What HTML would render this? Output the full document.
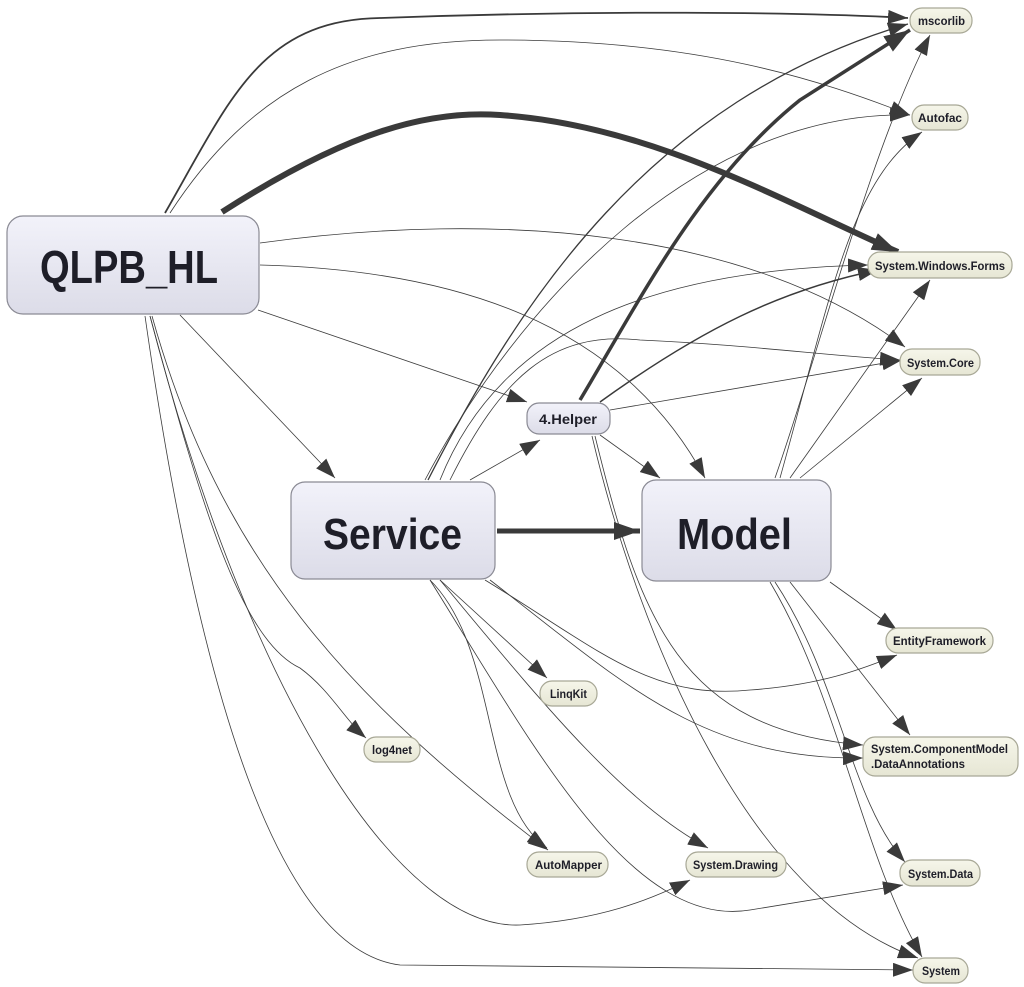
<!DOCTYPE html>
<html><head><meta charset="utf-8"><style>
html,body{margin:0;padding:0;background:#fff;}
svg{display:block;}
text{font-family:"Liberation Sans Narrow","Liberation Sans",sans-serif;font-weight:bold;fill:#1e1e28;}
</style></head><body>
<svg width="1024" height="987" viewBox="0 0 1024 987" xmlns="http://www.w3.org/2000/svg">
<defs>
<linearGradient id="big" x1="0" y1="0" x2="0" y2="1"><stop offset="0" stop-color="#f2f2fa"/><stop offset="1" stop-color="#dcdce8"/></linearGradient>
<linearGradient id="sm" x1="0" y1="0" x2="0" y2="1"><stop offset="0" stop-color="#f6f6ea"/><stop offset="1" stop-color="#e6e6d4"/></linearGradient>
<marker id="a" markerUnits="userSpaceOnUse" markerWidth="22" markerHeight="14" refX="20" refY="7" orient="auto"><path d="M0,0 L20,7 L0,14 z" fill="#3a3a3a"/></marker>
<marker id="b" markerUnits="userSpaceOnUse" markerWidth="28" markerHeight="18" refX="26" refY="9" orient="auto"><path d="M0,0 L26,9 L0,18 z" fill="#3a3a3a"/></marker>
</defs>
<g fill="none" stroke="#3a3a3a" stroke-width="0.8" marker-end="url(#a)">
<path d="M165,213 C230,100 260,20 380,18 C600,10 800,12 908,18" stroke-width="1.8"/>
<path d="M170,213 C250,90 350,40 500,40 C700,40 820,80 910,115"/>
<path d="M260,243 C500,210 750,230 905,347"/>
<path d="M260,265 C450,270 620,320 705,478"/>
<path d="M258,310 L527,402"/>
<path d="M180,315 L335,478"/>
<path d="M150,316 C200,500 240,640 300,668 C330,690 345,720 366,738"/>
<path d="M152,316 C220,560 350,700 548,850"/>
<path d="M150,316 C250,700 400,930 520,925 C600,920 650,900 690,880"/>
<path d="M145,316 C200,700 280,950 400,965 L913,970"/>
<path d="M428,480 C520,300 650,100 908,24" stroke-width="1.3"/>
<path d="M425,480 C520,300 700,110 910,115"/>
<path d="M440,480 C500,330 650,270 868,265"/>
<path d="M450,480 C500,380 550,330 640,340 C750,345 820,355 900,360"/>
<path d="M470,480 L540,440"/>
<path d="M430,580 C500,650 480,800 547,848"/>
<path d="M440,580 L547,678"/>
<path d="M440,580 C540,700 620,800 708,848"/>
<path d="M485,580 C600,650 650,700 750,690 C820,685 860,670 897,655"/>
<path d="M490,580 C620,680 700,760 863,758"/>
<path d="M430,580 C530,740 630,930 750,910 L903,885"/>
<path d="M600,402 C700,330 780,290 878,270" stroke-width="1.5"/>
<path d="M610,410 L902,360"/>
<path d="M600,435 L660,478"/>
<path d="M595,436 C640,620 680,730 863,745"/>
<path d="M592,436 C640,640 750,900 918,958"/>
<path d="M775,478 C820,350 870,150 930,35"/>
<path d="M780,478 C830,300 850,180 922,132"/>
<path d="M790,478 L930,280"/>
<path d="M800,478 L922,378"/>
<path d="M830,582 L897,630"/>
<path d="M790,582 L910,735"/>
<path d="M775,582 C840,680 850,800 905,862"/>
<path d="M770,582 C840,700 860,850 922,957"/>
</g>
<g fill="none" stroke="#3a3a3a" marker-end="url(#b)">
<path d="M222,212 C350,130 430,110 500,115 C650,125 780,200 898,252" stroke-width="6"/>
<path d="M580,400 C640,300 700,180 800,100 L910,30" stroke-width="3.5"/>
<path d="M497,531 L640,531" stroke-width="5"/>
</g>
<g stroke="#8a8a94" stroke-width="1.2" fill="url(#big)">
<rect x="7" y="216" width="252" height="98" rx="16"/>
<rect x="291" y="482" width="204" height="97" rx="14"/>
<rect x="642" y="480" width="189" height="101" rx="14"/>
<rect x="527" y="403" width="83" height="31" rx="12"/>
</g>
<text x="40" y="283" font-size="46" textLength="178" lengthAdjust="spacingAndGlyphs">QLPB_HL</text>
<text x="323" y="549" font-size="44" textLength="139" lengthAdjust="spacingAndGlyphs">Service</text>
<text x="677" y="549" font-size="44" textLength="115" lengthAdjust="spacingAndGlyphs">Model</text>
<text x="539" y="424" font-size="14" textLength="58" lengthAdjust="spacingAndGlyphs">4.Helper</text>
<g stroke="#a8a896" stroke-width="1.2" fill="url(#sm)">
<rect x="910" y="8" width="62" height="25" rx="12"/>
<rect x="912" y="105" width="56" height="25" rx="12"/>
<rect x="868" y="252" width="144" height="26" rx="12"/>
<rect x="900" y="349" width="80" height="26" rx="12"/>
<rect x="886" y="628" width="107" height="25" rx="12"/>
<rect x="863" y="737" width="155" height="39" rx="12"/>
<rect x="900" y="860" width="80" height="26" rx="12"/>
<rect x="913" y="958" width="55" height="25" rx="12"/>
<rect x="540" y="681" width="57" height="25" rx="12"/>
<rect x="364" y="737" width="56" height="25" rx="12"/>
<rect x="527" y="852" width="81" height="25" rx="12"/>
<rect x="686" y="852" width="100" height="25" rx="12"/>
</g>
<g font-size="12" lengthAdjust="spacingAndGlyphs">
<text x="918" y="25" textLength="47" lengthAdjust="spacingAndGlyphs">mscorlib</text>
<text x="918" y="122" textLength="44" lengthAdjust="spacingAndGlyphs">Autofac</text>
<text x="875" y="270" textLength="130" lengthAdjust="spacingAndGlyphs">System.Windows.Forms</text>
<text x="907" y="367" textLength="67" lengthAdjust="spacingAndGlyphs">System.Core</text>
<text x="893" y="645" textLength="93" lengthAdjust="spacingAndGlyphs">EntityFramework</text>
<text x="871" y="753" textLength="137" lengthAdjust="spacingAndGlyphs">System.ComponentModel</text>
<text x="871" y="768" textLength="94" lengthAdjust="spacingAndGlyphs">.DataAnnotations</text>
<text x="908" y="878" textLength="65" lengthAdjust="spacingAndGlyphs">System.Data</text>
<text x="922" y="975" textLength="38" lengthAdjust="spacingAndGlyphs">System</text>
<text x="550" y="698" textLength="37" lengthAdjust="spacingAndGlyphs">LinqKit</text>
<text x="372" y="754" textLength="40" lengthAdjust="spacingAndGlyphs">log4net</text>
<text x="535" y="869" textLength="67" lengthAdjust="spacingAndGlyphs">AutoMapper</text>
<text x="693" y="869" textLength="85" lengthAdjust="spacingAndGlyphs">System.Drawing</text>
</g>
</svg>
</body></html>
